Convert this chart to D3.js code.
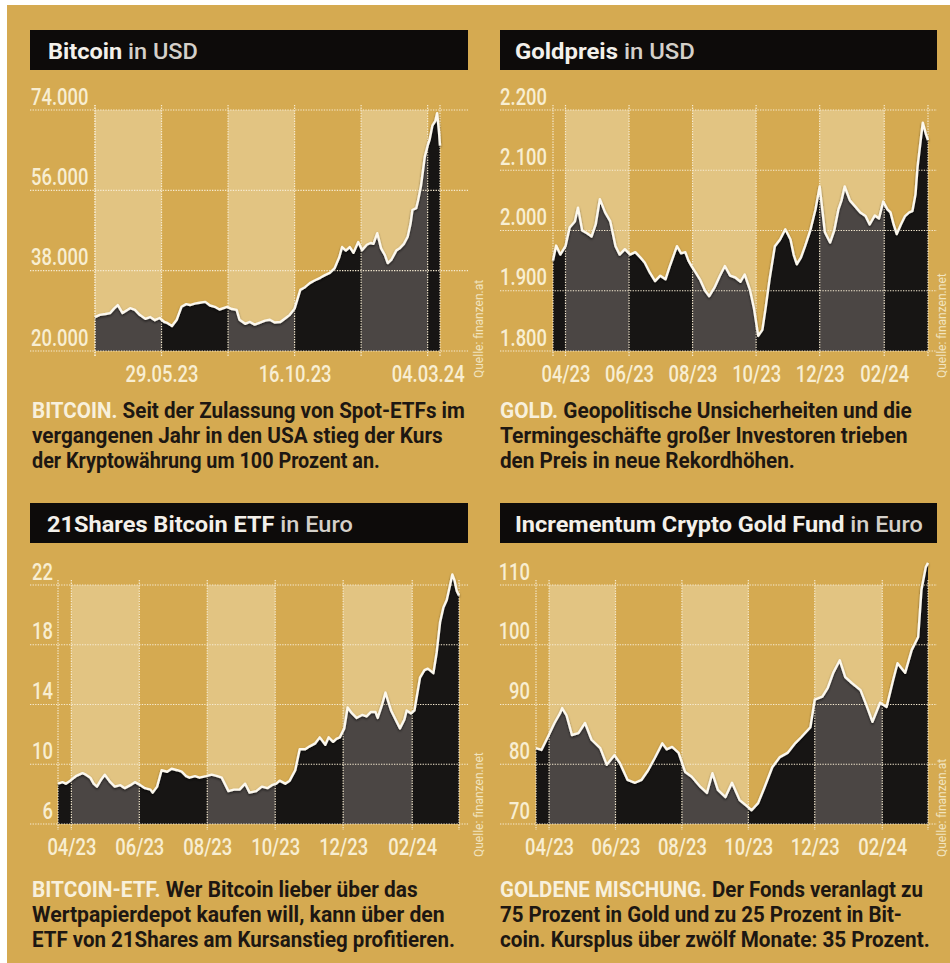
<!DOCTYPE html>
<html>
<head>
<meta charset="utf-8">
<script src="https://cdn.jsdelivr.net/npm/d3@7"></script>
<style>
body { margin: 0; background: #fff; }
svg { display: block; }
</style>
</head>
<body>
<svg id="chart" width="950" height="963"></svg>
<script>
// x values are days since 20.03.2023
var START = "2023-03-20"

// Bitcoin in USD
var btcSeries = [
  [0, 27600], [5, 28100], [11, 28300], [16, 28500], [20, 29500], [24, 30300], [29, 28500], [34, 29200], [37, 29600], [42, 29200],
  [47, 28100], [53, 27200], [58, 27600], [63, 26900], [68, 27400], [73, 26500], [76, 26300], [81, 25600], [86, 27000], [91, 29900],
  [96, 30500], [100, 30300], [105, 30600], [110, 30800], [116, 31000], [121, 30200], [126, 29900], [131, 29300], [139, 29900], [144, 29400],
  [149, 29200], [152, 27000], [158, 26100], [163, 26500], [168, 25900], [173, 26300], [179, 26800], [184, 27000], [189, 26400], [195, 26500],
  [200, 27300], [205, 28100], [210, 29500], [216, 33700], [221, 34300], [226, 35200], [231, 35800], [237, 36400], [242, 37000], [247, 37500],
  [252, 38500], [257, 41000], [260, 43300], [264, 42500], [268, 43300], [272, 42000], [277, 44400], [281, 42600], [286, 43800], [290, 44200],
  [293, 44000], [297, 46400], [301, 43000], [305, 41500], [308, 39700], [312, 40500], [317, 42500], [321, 43100], [325, 44000], [329, 45600],
  [332, 48500], [334, 51600], [338, 52000], [340, 53800], [343, 57000], [347, 63500], [350, 66000], [352, 67300], [355, 70500], [358, 71500],
  [360, 73300], [362, 69000], [363, 66000]
]
var btcTicks = [20000, 38000, 56000, 74000]
var btcDateTicks = ["2023-05-29", "2023-10-16", "2024-03-04"]
var btcBandLines = ["2023-03-20", "2023-05-29", "2023-08-07", "2023-10-16", "2023-12-25", "2024-03-04"]

// Goldpreis in USD
var goldSeries = [
  [0, 1950], [3, 1975], [7, 1960], [12, 1974], [16, 2005], [21, 2015], [24, 2038], [28, 2000], [33, 1995], [37, 1990],
  [41, 2010], [45, 2052], [50, 2030], [55, 2015], [60, 1974], [64, 1960], [69, 1969], [74, 1960], [79, 1964], [84, 1955],
  [88, 1947], [93, 1930], [98, 1916], [103, 1925], [108, 1919], [112, 1940], [119, 1974], [123, 1962], [127, 1964], [130, 1950],
  [133, 1941], [137, 1930], [141, 1919], [146, 1900], [150, 1891], [155, 1905], [160, 1924], [165, 1941], [170, 1925], [175, 1922],
  [180, 1915], [184, 1927], [189, 1902], [193, 1870], [197, 1825], [201, 1835], [204, 1870], [208, 1920], [213, 1974], [218, 1985],
  [223, 2002], [228, 1985], [231, 1960], [234, 1944], [238, 1955], [242, 1974], [247, 2000], [252, 2035], [256, 2073], [261, 1997],
  [266, 1980], [270, 2000], [274, 2035], [277, 2050], [280, 2073], [285, 2050], [290, 2040], [295, 2030], [300, 2024], [304, 2010],
  [309, 2025], [313, 2020], [317, 2048], [321, 2035], [324, 2030], [327, 2010], [330, 1994], [334, 2010], [338, 2024], [342, 2030],
  [345, 2032], [348, 2060], [350, 2106], [353, 2150], [355, 2179], [358, 2160], [360, 2150]
]
var goldTicks = [1800, 1900, 2000, 2100, 2200]

// 21Shares Bitcoin ETF in Euro
var etfSeries = [
  [0, 8.7], [4, 8.8], [7, 8.7], [11, 8.9], [16, 9.2], [22, 9.4], [25, 9.3], [29, 9.1], [32, 8.7], [35, 8.5],
  [39, 9.0], [42, 9.3], [47, 8.8], [51, 8.5], [56, 8.6], [60, 8.4], [65, 8.6], [69, 8.8], [74, 8.6], [78, 8.4],
  [83, 8.3], [85, 8.1], [89, 8.5], [93, 9.6], [98, 9.5], [102, 9.7], [107, 9.6], [111, 9.5], [115, 9.2], [118, 9.1],
  [123, 9.2], [127, 9.1], [133, 9.2], [138, 9.3], [143, 9.2], [147, 9.1], [151, 8.5], [153, 8.2], [158, 8.3], [163, 8.3],
  [168, 8.7], [172, 8.1], [178, 8.2], [183, 8.5], [188, 8.4], [192, 8.6], [196, 8.7], [199, 8.9], [204, 8.7], [208, 8.9],
  [213, 9.6], [217, 11.0], [222, 11.0], [226, 11.2], [231, 11.4], [235, 11.8], [240, 11.3], [243, 11.8], [247, 11.5], [250, 11.7],
  [253, 11.8], [257, 12.4], [260, 13.8], [264, 13.4], [268, 13.1], [273, 13.3], [277, 13.2], [281, 13.5], [285, 13.5], [287, 13.1],
  [291, 14.0], [294, 14.8], [296, 14.3], [299, 13.6], [303, 13.0], [307, 12.4], [311, 13.0], [313, 13.6], [317, 13.4], [320, 13.6],
  [325, 15.8], [329, 16.3], [332, 16.4], [337, 16.1], [340, 17.5], [343, 19.5], [346, 20.5], [349, 21.0], [352, 22.0], [354, 22.7],
  [356, 22.3], [358, 21.6], [360, 21.3]
]
var etfTicks = [6, 10, 14, 18, 22]

// Incrementum Crypto Gold Fund in Euro
var fundSeries = [
  [0, 82.7], [5, 82.4], [11, 84.6], [17, 86.9], [22, 88.5], [24, 89.4], [28, 88.2], [33, 84.9], [39, 85.2], [45, 86.9],
  [51, 84.1], [59, 82.7], [65, 79.9], [72, 81.5], [77, 80.2], [84, 77.4], [91, 76.9], [97, 77.4], [103, 79.0], [109, 81.0],
  [116, 83.5], [120, 82.5], [125, 82.9], [131, 81.9], [137, 78.7], [143, 77.9], [151, 76.2], [157, 75.2], [162, 78.5], [167, 75.7],
  [174, 74.5], [180, 76.9], [187, 74.0], [195, 72.8], [198, 72.3], [204, 73.5], [210, 76.2], [217, 79.5], [224, 81.2], [231, 81.9],
  [238, 83.5], [244, 84.6], [252, 86.2], [256, 90.8], [263, 91.3], [268, 92.8], [273, 95.3], [279, 97.4], [284, 94.6], [290, 93.6],
  [298, 92.4], [304, 89.6], [309, 87.1], [316, 90.3], [322, 89.6], [328, 94.1], [332, 96.9], [339, 95.3], [345, 99.1], [351, 101.3],
  [354, 109.2], [358, 113.0], [360, 113.7]
]
var fundTicks = [70, 80, 90, 100, 110]

// month ticks and band borders for gold, ETF and fund
var monthTicks = ["2023-04-01", "2023-06-01", "2023-08-01", "2023-10-01", "2023-12-01", "2024-02-01"]

var btcCaption = [["BITCOIN.", " Seit der Zulassung von Spot-ETFs im"], ["", "vergangenen Jahr in den USA stieg der Kurs"], ["", "der Kryptowährung um 100 Prozent an."]]
var goldCaption = [["GOLD.", " Geopolitische Unsicherheiten und die"], ["", "Termingeschäfte großer Investoren trieben"], ["", "den Preis in neue Rekordhöhen."]]
var etfCaption = [["BITCOIN-ETF.", " Wer Bitcoin lieber über das"], ["", "Wertpapierdepot kaufen will, kann über den"], ["", "ETF von 21Shares am Kursanstieg profitieren."]]
var fundCaption = [["GOLDENE MISCHUNG.", " Der Fonds veranlagt zu"], ["", "75 Prozent in Gold und zu 25 Prozent in Bit-"], ["", "coin. Kursplus über zwölf Monate: 35 Prozent."]]

var parse = d3.timeParse("%Y-%m-%d")
var start = parse(START)
var de = d3.formatLocale({decimal: ",", thousands: ".", grouping: [3], currency: ["", " €"]})
var fmtThousands = de.format(",")
var fmtPlain = de.format("d")

var panels = [
  {id: 'btc', title: 'Bitcoin', unit: ' in USD', series: btcSeries, yTicks: btcTicks, yFormat: fmtThousands,
   end: '2024-03-17', xTicks: btcDateTicks, xFormat: d3.timeFormat('%d.%m.%y'), bandLines: btcBandLines,
   caption: btcCaption, source: 'Quelle: finanzen.at',
   box: {hx: 30, hy: 30, hw: 438, x0: 95, x1: 440, yt: 110, yb: 351, labelX: 31, anchor: 'start', titleX: 48, titleW: 150,
         capX: 32, capY: 418, capW: [433, 411, 348], srcX: 483, srcY: 378}},
  {id: 'gold', title: 'Goldpreis', unit: ' in USD', series: goldSeries, yTicks: goldTicks, yFormat: fmtThousands,
   end: '2024-03-14', xTicks: monthTicks, xFormat: d3.timeFormat('%m/%y'), bandLines: monthTicks,
   caption: goldCaption, source: 'Quelle: finanzen.net',
   box: {hx: 500, hy: 30, hw: 437, x0: 553, x1: 928, yt: 110, yb: 351, labelX: 547, anchor: 'end', titleX: 515, titleW: 180,
         capX: 500, capY: 418, capW: [412, 408, 295], srcX: 946, srcY: 378}},
  {id: 'etf', title: '21Shares Bitcoin ETF', unit: ' in Euro', series: etfSeries, yTicks: etfTicks, yFormat: fmtPlain,
   end: '2024-03-14', xTicks: monthTicks, xFormat: d3.timeFormat('%m/%y'), bandLines: monthTicks,
   caption: etfCaption, source: 'Quelle: finanzen.net',
   box: {hx: 30, hy: 503, hw: 438, x0: 58, x1: 459, yt: 585, yb: 824, labelX: 53, anchor: 'end', titleX: 47, titleW: 306,
         capX: 32, capY: 897, capW: [386, 413, 423], srcX: 483, srcY: 857}},
  {id: 'fund', title: 'Incrementum Crypto Gold Fund', unit: ' in Euro', series: fundSeries, yTicks: fundTicks, yFormat: fmtPlain,
   end: '2024-03-14', xTicks: monthTicks, xFormat: d3.timeFormat('%m/%y'), bandLines: monthTicks,
   caption: fundCaption, source: 'Quelle: finanzen.at',
   box: {hx: 500, hy: 503, hw: 437, x0: 536, x1: 928, yt: 585, yb: 824, labelX: 530, anchor: 'end', titleX: 515, titleW: 408,
         capX: 500, capY: 897, capW: [423, 402, 430], srcX: 946, srcY: 857}}
]

var svg = d3.select('#chart')
var defs = svg.append('defs')
defs.append('filter').attr('id', 'shadow')
    .attr('x', '-5%').attr('y', '-10%').attr('width', '110%').attr('height', '130%')
    .append('feDropShadow')
    .attr('dx', 0).attr('dy', 1.5).attr('stdDeviation', 1.3)
    .attr('flood-color', '#000').attr('flood-opacity', 0.55)

svg.append('rect').attr('width', 950).attr('height', 963).attr('fill', '#fff')
svg.append('rect').attr('x', 7).attr('y', 5).attr('width', 943).attr('height', 958).attr('fill', '#d5aa51')

var GOLD_LIGHT = '#e2c482'
var FILL_DARK = '#171514'
var FILL_GRAY = '#4b4644'
var GRID = '#f7ecd2'
var LABEL = '#f8eed2'

function fitText(sel, x, y, width) {
    // squeeze text horizontally so it covers the same width as in the print
    var w = sel.node().getBBox().width
    sel.attr('transform', 'translate(' + x + ',' + y + ') scale(' + (width / w) + ',1)')
}

panels.forEach(function(p) {
    var b = p.box
    var g = svg.append('g').attr('id', 'panel-' + p.id)
    var x = d3.scaleTime().domain([start, parse(p.end)]).range([b.x0, b.x1])
    var y = d3.scaleLinear().domain(d3.extent(p.yTicks)).range([b.yb, b.yt])
    var data = p.series.map(function(d) {
        return {date: d3.timeDay.offset(start, d[0]), value: d[1]}
    })
    var lines = p.bandLines.map(parse)
    var bands = d3.range(0, lines.length, 2).map(function(k) { return [lines[k], lines[k + 1]] })

    // header
    g.append('rect')
        .attr('x', b.hx).attr('y', b.hy).attr('width', b.hw).attr('height', 40)
        .attr('fill', '#0d0b0a')
    var title = g.append('text')
        .attr('font-family', 'Roboto, sans-serif').attr('font-size', 22)
        .style('white-space', 'pre')
    title.append('tspan').attr('font-weight', 700).attr('fill', '#f3f0ea').text(p.title)
    title.append('tspan').attr('font-weight', 500).attr('fill', '#d4d0c9').text(p.unit)
    fitText(title, b.titleX, b.hy + 29, b.titleW)

    // lighter bands behind the curve
    g.selectAll('.band')
        .data(bands)
        .enter()
        .append('rect')
        .attr('class', 'band')
        .attr('x', function(d) { return x(d[0]) })
        .attr('y', b.yt)
        .attr('width', function(d) { return x(d[1]) - x(d[0]) })
        .attr('height', b.yb - b.yt)
        .attr('fill', GOLD_LIGHT)

    defs.append('clipPath').attr('id', 'light-' + p.id)
        .selectAll('rect')
        .data(bands)
        .enter()
        .append('rect')
        .attr('x', function(d) { return x(d[0]) })
        .attr('y', b.yt - 40)
        .attr('width', function(d) { return x(d[1]) - x(d[0]) })
        .attr('height', b.yb - b.yt + 40)

    var area = d3.area()
        .x(function(d) { return x(d.date) })
        .y0(b.yb)
        .y1(function(d) { return y(d.value) })
    g.append('path').datum(data).attr('d', area).attr('fill', FILL_DARK)
    g.append('path').datum(data).attr('d', area).attr('fill', FILL_GRAY)
        .attr('clip-path', 'url(#light-' + p.id + ')')

    // dotted grid
    g.selectAll('.hgrid')
        .data(p.yTicks)
        .enter()
        .append('line')
        .attr('class', 'hgrid')
        .attr('x1', b.hx).attr('x2', b.hx + b.hw)
        .attr('y1', function(d) { return y(d) }).attr('y2', function(d) { return y(d) })
        .attr('stroke', GRID).attr('stroke-width', 1.2).attr('stroke-dasharray', '1.3 1.3')
    var vlines = [x.domain()[0]].concat(lines, [x.domain()[1]])
    g.selectAll('.vgrid')
        .data(vlines)
        .enter()
        .append('line')
        .attr('class', 'vgrid')
        .attr('x1', function(d) { return x(d) }).attr('x2', function(d) { return x(d) })
        .attr('y1', b.yt - 5).attr('y2', b.yb + 6)
        .attr('stroke', GRID).attr('stroke-width', 1.2).attr('stroke-dasharray', '1.3 1.3')

    // price line
    var line = d3.line()
        .x(function(d) { return x(d.date) })
        .y(function(d) { return y(d.value) })
    g.append('path').datum(data).attr('d', line)
        .attr('fill', 'none').attr('stroke', '#fcf8ee').attr('stroke-width', 2.4)
        .attr('stroke-linejoin', 'round').attr('filter', 'url(#shadow)')

    // axes
    var yAxis = g.append('g')
        .attr('transform', 'translate(' + b.labelX + ',0)')
        .call(d3.axisLeft(y).tickValues(p.yTicks).tickSize(0).tickFormat(p.yFormat))
    yAxis.select('.domain').remove()
    yAxis.attr('font-family', 'Roboto, sans-serif').attr('font-size', 23).attr('font-weight', 500)
    yAxis.selectAll('text')
        .attr('x', 0).attr('dy', 0)
        .attr('text-anchor', b.anchor)
        .attr('fill', LABEL)
        .attr('transform', 'translate(0,-6) scale(0.8,1)')

    var xAxis = g.append('g')
        .attr('transform', 'translate(0,' + (b.yb + 31) + ')')
        .call(d3.axisBottom(x).tickValues(p.xTicks.map(parse)).tickSize(0).tickFormat(p.xFormat))
    xAxis.select('.domain').remove()
    xAxis.attr('font-family', 'Roboto, sans-serif').attr('font-size', 23).attr('font-weight', 500)
    xAxis.selectAll('text')
        .attr('y', 0).attr('dy', 0)
        .attr('fill', LABEL)
        .attr('transform', 'scale(0.8,1)')

    // source, rotated
    g.append('text')
        .attr('transform', 'translate(' + b.srcX + ',' + b.srcY + ') rotate(-90)')
        .attr('font-family', 'Roboto, sans-serif').attr('font-size', 12)
        .attr('fill', '#f1e4c0')
        .text(p.source)

    // caption
    p.caption.forEach(function(c, k) {
        var t = g.append('text')
            .attr('font-family', 'Roboto, sans-serif').attr('font-size', 22).attr('font-weight', 700)
            .style('white-space', 'pre')
        if (c[0]) t.append('tspan').attr('fill', '#f8f0dc').text(c[0])
        t.append('tspan').attr('fill', '#1d1712').text(c[1])
        fitText(t, b.capX, b.capY + k * 25, b.capW[k])
    })
})
</script>
</body>
</html>
